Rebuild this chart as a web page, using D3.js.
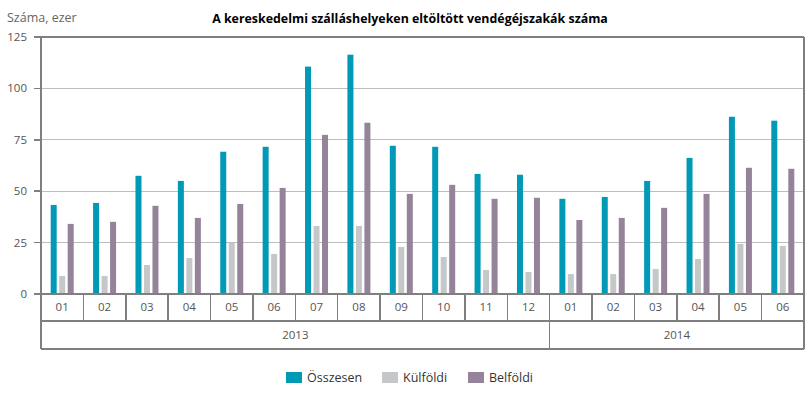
<!DOCTYPE html>
<html><head><meta charset="utf-8">
<script src="https://cdn.jsdelivr.net/npm/d3@7"></script>
<style>body{margin:0;background:#fff}svg{display:block}text{font-family:"Open Sans",sans-serif}</style>
</head><body><svg id="c" width="812" height="400"></svg>
<script>
const months = ["01","02","03","04","05","06","07","08","09","10","11","12","01","02","03","04","05","06"];
const years = [{label:"2013", n:12},{label:"2014", n:6}];
const seriesNames = ["Összesen","Külföldi","Belföldi"];
const osszesen = [43.3,44.3,57.5,55.0,69.2,71.6,110.6,116.4,72.1,71.6,58.4,58.0,46.3,47.2,55.0,66.2,86.2,84.3];
const kulfoldi = [8.8,8.8,14.1,17.5,24.8,19.5,33.1,33.1,22.9,18.0,11.7,10.7,9.7,9.7,12.2,17.0,24.4,23.4];
const belfoldi = [34.1,35.1,42.9,37.0,43.8,51.6,77.4,83.3,48.7,53.1,46.3,46.8,36.0,37.0,41.9,48.7,61.4,60.9];
const yTicks = [0,25,50,75,100,125];
const colors = ["#0099b6","#c6c7c9","#948399"];
const title = "A kereskedelmi szálláshelyeken eltöltött vendégéjszakák száma";
const yTitle = "Száma, ezer";

const series = [osszesen,kulfoldi,belfoldi];
const svg = d3.select("#c");
const L=41, R=804, T=37, B=294, row1=321, row2=349;
const idx = d3.range(months.length);
const x = d3.scaleBand().domain(idx).range([L,R]);
const y = d3.scaleLinear().domain([0,125]).range([B,T]);
const bw = 6, step = 8.5;

// gridlines
svg.append("g").selectAll("line").data(yTicks.filter(d=>d>0&&d<125)).join("line")
  .attr("x1",L).attr("x2",R).attr("y1",d=>y(d)).attr("y2",d=>y(d))
  .attr("stroke","#bdbdbd").attr("stroke-width",1).attr("shape-rendering","crispEdges");

// bars
series.forEach((s,si)=>{
  svg.append("g").selectAll("rect").data(s).join("rect")
    .attr("x",(d,i)=>x(i)+x.bandwidth()/2 - 11.5 + si*step)
    .attr("width",bw)
    .attr("y",d=>y(d)).attr("height",d=>y(0)-y(d))
    .attr("fill",colors[si]);
});

const ax = "#7f7f7f";
// frame
const g = svg.append("g").attr("stroke",ax).attr("stroke-width",1.5).attr("shape-rendering","crispEdges");
g.append("line").attr("x1",L).attr("x2",R).attr("y1",T).attr("y2",T);
g.append("line").attr("x1",R).attr("x2",R).attr("y1",T).attr("y2",row2);
g.append("line").attr("x1",L).attr("x2",L).attr("y1",T).attr("y2",row2);
g.append("line").attr("x1",34).attr("x2",R).attr("y1",B).attr("y2",B);
g.append("line").attr("x1",L).attr("x2",R).attr("y1",row1).attr("y2",row1);
g.append("line").attr("x1",L).attr("x2",R).attr("y1",row2).attr("y2",row2);
// y ticks
g.selectAll("line.yt").data(yTicks).join("line").attr("class","yt")
  .attr("x1",34).attr("x2",L).attr("y1",d=>y(d)).attr("y2",d=>y(d));
// month separators
g.selectAll("line.ms").data(idx.slice(1)).join("line").attr("class","ms")
  .attr("x1",d=>x(d)).attr("x2",d=>x(d)).attr("y1",B-1).attr("y2",row1);
// year separators
let acc=0; const yearPos=[];
years.forEach(yy=>{yearPos.push({label:yy.label,x0:x(acc),x1:(acc+yy.n<months.length?x(acc+yy.n):R)});acc+=yy.n;});
g.selectAll("line.ys").data(yearPos.slice(1)).join("line").attr("class","ys")
  .attr("x1",d=>d.x0).attr("x2",d=>d.x0).attr("y1",B).attr("y2",row2);

const tc = "#555";
svg.append("g").selectAll("text").data(yTicks).join("text")
  .attr("x",27).attr("y",d=>y(d)+4).attr("text-anchor","end")
  .attr("font-size",11.5).attr("fill",tc).text(d=>d);
svg.append("g").selectAll("text").data(idx).join("text")
  .attr("x",d=>x(d)+x.bandwidth()/2).attr("y",311).attr("text-anchor","middle")
  .attr("font-size",11.5).attr("fill",tc).text(d=>months[d]);
svg.append("g").selectAll("text").data(yearPos).join("text")
  .attr("x",d=>(d.x0+d.x1)/2).attr("y",339).attr("text-anchor","middle")
  .attr("font-size",11.5).attr("fill",tc).text(d=>d.label);

svg.append("text").attr("x",410).attr("y",23).attr("text-anchor","middle")
  .attr("font-size",12.4).attr("font-weight","bold").attr("fill","#000").text(title);
svg.append("text").attr("x",7).attr("y",22).attr("font-size",12.5).attr("fill","#666").text(yTitle);

// legend
const lx=[286,382,468];
const lg = svg.append("g");
seriesNames.forEach((n,i)=>{
  lg.append("rect").attr("x",lx[i]).attr("y",372).attr("width",16).attr("height",11).attr("fill",colors[i]);
  lg.append("text").attr("x",lx[i]+21).attr("y",382).attr("font-size",12.5).attr("fill","#333").text(n);
});
</script></body></html>
